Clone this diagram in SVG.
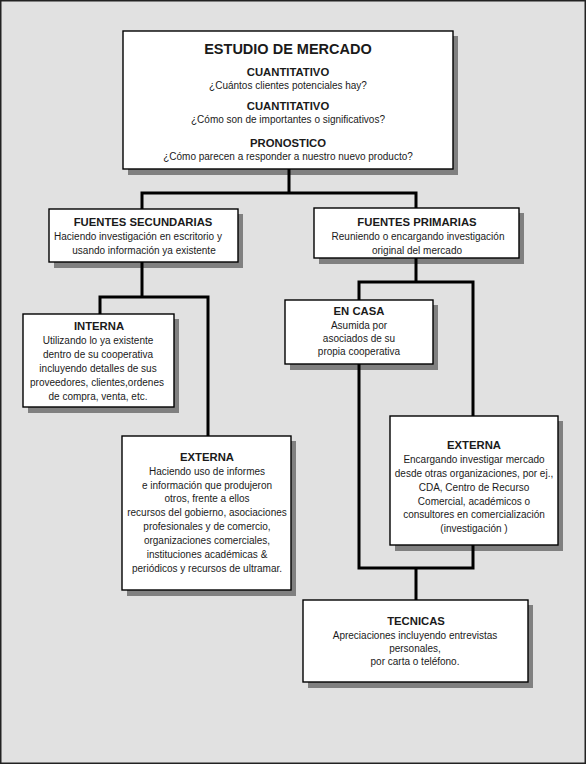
<svg xmlns="http://www.w3.org/2000/svg" width="586" height="764" viewBox="0 0 586 764">
<style>
.bg{fill:#e1e1e1;stroke:#222;stroke-width:1.5}
.sh{fill:#808080}
.bx{fill:#fff;stroke:#000;stroke-width:1.4}
.cn{fill:none;stroke:#000;stroke-width:3;stroke-linejoin:miter;stroke-linecap:butt}
text{font-family:"Liberation Sans",Arial,sans-serif;fill:#1a1a1a;text-anchor:middle}
.h0{font-size:14.5px;font-weight:bold}
.h1{font-size:11.3px;font-weight:bold}
.t{font-size:10px}
</style>
<rect class="bg" x="0.75" y="0.75" width="584.5" height="762.5"/>

<g id="estudio">
<rect class="sh" x="128" y="36" width="330" height="139"/>
<rect class="bx" x="123" y="31" width="330" height="138"/>
<text class="h0" x="288" y="54">ESTUDIO DE MERCADO</text>
<text class="h1" x="288" y="76">CUANTITATIVO</text>
<text class="t" x="288" y="89">¿Cuántos clientes potenciales hay?</text>
<text class="h1" x="288" y="110">CUANTITATIVO</text>
<text class="t" x="288" y="123">¿Cómo son de importantes o significativos?</text>
<text class="h1" x="288" y="147">PRONOSTICO</text>
<text class="t" x="288" y="160">¿Cómo parecen a responder a nuestro nuevo producto?</text>
</g>

<g id="fuentes-secundarias">
<rect class="sh" x="54" y="214" width="189" height="54"/>
<rect class="bx" x="49" y="209" width="189" height="53"/>
<text class="h1" x="143" y="226">FUENTES SECUNDARIAS</text>
<text class="t" x="138" y="240">Haciendo investigación en escritorio y</text>
<text class="t" x="144" y="254">usando información ya existente</text>
</g>

<g id="fuentes-primarias">
<rect class="sh" x="319" y="213" width="205" height="51"/>
<rect class="bx" x="314" y="208" width="205" height="50"/>
<text class="h1" x="417" y="226">FUENTES PRIMARIAS</text>
<text class="t" x="418" y="240">Reuniendo o encargando investigación</text>
<text class="t" x="417" y="254">original del mercado</text>
</g>

<g id="interna">
<rect class="sh" x="28" y="319" width="151" height="94"/>
<rect class="bx" x="23" y="314" width="151" height="93"/>
<text class="h1" x="99" y="330">INTERNA</text>
<text class="t" x="98" y="344">Utilizando lo ya existente</text>
<text class="t" x="98" y="358">dentro de su cooperativa</text>
<text class="t" x="98" y="372">incluyendo detalles de sus</text>
<text class="t" x="97" y="386">proveedores, clientes,ordenes</text>
<text class="t" x="98" y="400">de compra, venta, etc.</text>
</g>

<g id="en-casa">
<rect class="sh" x="290" y="305" width="148" height="65"/>
<rect class="bx" x="285" y="300" width="148" height="64"/>
<text class="h1" x="359" y="315">EN CASA</text>
<text class="t" x="359" y="329">Asumida por</text>
<text class="t" x="359" y="342">asociados de su</text>
<text class="t" x="359" y="355">propia cooperativa</text>
</g>

<g id="externa-secundaria">
<rect class="sh" x="127" y="441" width="169" height="155"/>
<rect class="bx" x="122" y="436" width="169" height="154"/>
<text class="h1" x="207" y="461">EXTERNA</text>
<text class="t" x="207" y="475">Haciendo uso de informes</text>
<text class="t" x="207" y="489">e información que produjeron</text>
<text class="t" x="207" y="502">otros, frente a ellos</text>
<text class="t" x="207" y="516">recursos del gobierno, asociaciones</text>
<text class="t" x="207" y="530">profesionales y de comercio,</text>
<text class="t" x="207" y="544">organizaciones comerciales,</text>
<text class="t" x="207" y="558">instituciones académicas &amp;</text>
<text class="t" x="207" y="572">periódicos y recursos de ultramar.</text>
</g>

<g id="externa-primaria">
<rect class="sh" x="395" y="421" width="168" height="130"/>
<rect class="bx" x="390" y="416" width="168" height="129"/>
<text class="h1" x="474" y="449">EXTERNA</text>
<text class="t" x="474" y="463">Encargando investigar mercado</text>
<text class="t" x="474" y="477">desde otras organizaciones, por ej.,</text>
<text class="t" x="474" y="491">CDA, Centro de Recurso</text>
<text class="t" x="474" y="505">Comercial, académicos o</text>
<text class="t" x="474" y="518">consultores en comercialización</text>
<text class="t" x="474" y="532">(investigación )</text>
</g>

<g id="tecnicas">
<rect class="sh" x="308" y="605" width="225" height="83"/>
<rect class="bx" x="303" y="600" width="225" height="82"/>
<text class="h1" x="416" y="625">TECNICAS</text>
<text class="t" x="415" y="639">Apreciaciones incluyendo entrevistas</text>
<text class="t" x="415" y="652">personales,</text>
<text class="t" x="415" y="665">por carta o teléfono.</text>
</g>

<g id="connectors">
<path class="cn" d="M289,169 V193 M142,209 V193 H416 V208"/>
<path class="cn" d="M142,262 V297 M100,314 V297 H208 V436"/>
<path class="cn" d="M416,258 V282 M359,300 V282 H473 V416"/>
<path class="cn" d="M359,364 V568 H473 V545 M416,568 V600"/>
</g>
</svg>
